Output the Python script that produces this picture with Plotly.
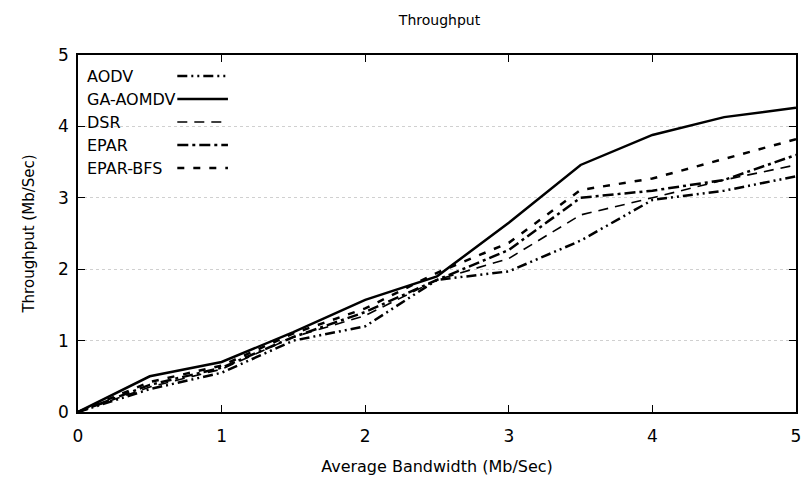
import plotly.graph_objects as go

x_vals = [0, 0.5, 1, 1.5, 2, 2.5, 3, 3.5, 4, 4.5, 5]
aodv = [0, 0.32, 0.55, 1.0, 1.2, 1.85, 1.97, 2.4, 2.97, 3.1, 3.3]
ga_aomdv = [0, 0.5, 0.7, 1.12, 1.57, 1.9, 2.65, 3.46, 3.88, 4.13, 4.26]
dsr = [0, 0.35, 0.6, 1.05, 1.35, 1.85, 2.15, 2.76, 3.0, 3.25, 3.46]
epar = [0, 0.38, 0.62, 1.05, 1.4, 1.85, 2.27, 3.0, 3.1, 3.25, 3.6]
epar_bfs = [0, 0.42, 0.65, 1.1, 1.45, 1.95, 2.37, 3.11, 3.27, 3.55, 3.82]

names = ["AODV", "GA-AOMDV", "DSR", "EPAR", "EPAR-BFS"]
series = [aodv, ga_aomdv, dsr, epar, epar_bfs]
dashes = ["10px,4px,2px,4px,2px,4px", "solid", "10px,7px", "11px,4px,3px,4px", "7px,9px"]
widths = [2.5, 2.5, 1.6, 2.5, 2.5]

fig = go.Figure()
for n, s, d, w in zip(names, series, dashes, widths):
    fig.add_trace(go.Scatter(x=x_vals, y=s, mode="lines", name=n,
                             line=dict(color="black", width=w, dash=d),
                             showlegend=False))

# gnuplot-style legend: text followed by a line sample
W, H = 810, 484
L, R, T, B = 78, 9, 55, 72
pw, ph = W - L - R, H - T - B
def px(xp):
    return (xp - L) / pw
def py(yp):
    return 1 - (yp - T) / ph

for i, (n, d, w) in enumerate(zip(names, dashes, widths)):
    yy = 76 + i * 23
    fig.add_annotation(x=px(85), y=py(yy), xref="paper", yref="paper", text=n,
                       showarrow=False, xanchor="left", yanchor="middle",
                       font=dict(family="DejaVu Sans", size=16, color="black"))
    fig.add_shape(type="line", xref="paper", yref="paper",
                  x0=px(178), x1=px(229), y0=py(yy), y1=py(yy),
                  line=dict(color="black", width=w, dash=d))

fig.update_layout(
    width=W, height=H,
    margin=dict(l=L, r=R, t=T, b=B),
    plot_bgcolor="white", paper_bgcolor="white",
    font=dict(family="DejaVu Sans", color="black", size=16),
    title=dict(text="Throughput", x=(L + pw / 2) / W, xanchor="center",
               y=1 - 20 / H, yanchor="middle", font=dict(size=14)),
    xaxis=dict(range=[0, 5], dtick=1, showgrid=False, zeroline=False,
               showline=True, linecolor="black", linewidth=1.5, mirror="ticks",
               ticks="inside", ticklen=7, tickcolor="black", ticklabelstandoff=8,
               title=dict(text="Average Bandwidth (Mb/Sec)", font=dict(size=16), standoff=16),
               tickfont=dict(size=17)),
    yaxis=dict(range=[0, 5], dtick=1, showgrid=True, gridcolor="#d0d0d0",
               griddash="dot", gridwidth=1, zeroline=False,
               showline=True, linecolor="black", linewidth=1.5, mirror="ticks",
               ticks="inside", ticklen=7, tickcolor="black", ticklabelstandoff=4,
               title=dict(text="Throughput (Mb/Sec)", font=dict(size=15), standoff=20),
               tickfont=dict(size=17)),
)

fig.write_html("out.html")
